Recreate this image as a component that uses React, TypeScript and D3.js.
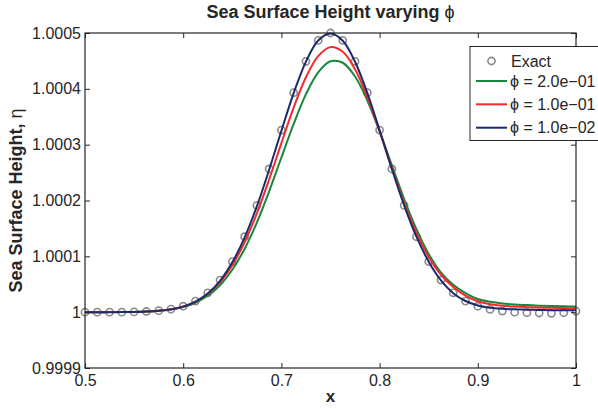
import React, { useEffect, useRef } from "react";
import * as d3 from "d3";

// x positions (every 0.0125 from 0.5 to 1)
const xs = d3.range(41).map((i) => +(0.5 + i * 0.0125).toFixed(4));

// Exact solution (circles)
const exact = [
  1.0000000, 1.0000000, 1.0000000, 1.0000000, 1.0000005, 1.0000012, 1.0000027, 1.0000055,
  1.0000107, 1.0000198, 1.0000346, 1.0000575, 1.0000906, 1.0001351, 1.0001912, 1.0002565,
  1.0003262, 1.0003932, 1.0004493, 1.0004868, 1.0005000, 1.0004868, 1.0004493, 1.0003932,
  1.0003262, 1.0002565, 1.0001912, 1.0001351, 1.0000906, 1.0000575, 1.0000346, 1.0000198,
  1.0000107, 1.0000050, 1.0000020, 1.0000000, 0.9999990, 0.9999985, 0.9999980, 0.9999990,
  1.0000020,
];

// phi = 2.0e-01
const phi2e1 = [
  1.0000000, 1.0000000, 1.0000001, 1.0000002, 1.0000005, 1.0000011, 1.0000024, 1.0000048,
  1.0000092, 1.0000169, 1.0000293, 1.0000483, 1.0000759, 1.0001132, 1.0001605, 1.0002163,
  1.0002770, 1.0003373, 1.0003905, 1.0004296, 1.0004493, 1.0004467, 1.0004221, 1.0003791,
  1.0003237, 1.0002628, 1.0002027, 1.0001487, 1.0001040, 1.0000710, 1.0000490, 1.0000340,
  1.0000235, 1.0000185, 1.0000155, 1.0000138, 1.0000127, 1.0000117, 1.0000110, 1.0000105,
  1.0000100,
];

// phi = 1.0e-01
const phi1e1 = [
  1.0000000, 1.0000000, 1.0000001, 1.0000002, 1.0000005, 1.0000012, 1.0000026, 1.0000052,
  1.0000101, 1.0000186, 1.0000324, 1.0000535, 1.0000840, 1.0001252, 1.0001770, 1.0002376,
  1.0003028, 1.0003663, 1.0004207, 1.0004587, 1.0004747, 1.0004664, 1.0004350, 1.0003851,
  1.0003237, 1.0002583, 1.0001956, 1.0001420, 1.0000990, 1.0000670, 1.0000450, 1.0000295,
  1.0000195, 1.0000142, 1.0000115, 1.0000100, 1.0000090, 1.0000082, 1.0000077, 1.0000073,
  1.0000070,
];

// phi = 1.0e-02
const phi1e2 = [
  1.0000000, 1.0000000, 1.0000000, 1.0000001, 1.0000004, 1.0000010, 1.0000024, 1.0000050,
  1.0000100, 1.0000190, 1.0000335, 1.0000562, 1.0000892, 1.0001336, 1.0001896, 1.0002550,
  1.0003250, 1.0003923, 1.0004487, 1.0004865, 1.0004990, 1.0004862, 1.0004485, 1.0003925,
  1.0003258, 1.0002563, 1.0001912, 1.0001352, 1.0000905, 1.0000570, 1.0000340, 1.0000200,
  1.0000120, 1.0000080, 1.0000060, 1.0000050, 1.0000045, 1.0000040, 1.0000035, 1.0000035,
  1.0000035,
];

const xTicks = [0.5, 0.6, 0.7, 0.8, 0.9, 1];
const xTickLabels = ["0.5", "0.6", "0.7", "0.8", "0.9", "1"];
const yTicks = [0.9999, 1, 1.0001, 1.0002, 1.0003, 1.0004, 1.0005];
const yTickLabels = ["0.9999", "1", "1.0001", "1.0002", "1.0003", "1.0004", "1.0005"];

const seriesNames = ["ϕ = 2.0e−01", "ϕ = 1.0e−01", "ϕ = 1.0e−02"];
const seriesColors = ["#16883c", "#f42a2a", "#1c2a6c"];

const App = () => {
  const svgRef = useRef(null);

  useEffect(() => {
    const svg = d3.select(svgRef.current);
    svg.selectAll("*").remove();

    const width = 598, height = 409;
    const left = 85, right = 576, top = 33, bottom = 368;
    const font = "'Liberation Sans', Arial, Helvetica, sans-serif";
    const ink = "#262626";

    const x = d3.scaleLinear().domain([0.5, 1]).range([left, right]);
    const y = d3.scaleLinear().domain([0.9999, 1.0005]).range([bottom, top]);

    svg.append("rect").attr("width", width).attr("height", height).attr("fill", "#fff");

    // exact circles
    svg.append("g")
      .selectAll("circle")
      .data(exact)
      .join("circle")
      .attr("cx", (d, i) => x(xs[i]))
      .attr("cy", (d) => y(d))
      .attr("r", 3.6)
      .attr("fill", "none")
      .attr("stroke", "#8a8a8a")
      .attr("stroke-width", 1.6);

    const line = d3.line()
      .x((d, i) => x(xs[i]))
      .y((d) => y(d))
      .curve(d3.curveCatmullRom);

    [phi2e1, phi1e1, phi1e2].forEach((s, i) => {
      svg.append("path")
        .datum(s)
        .attr("fill", "none")
        .attr("stroke", seriesColors[i])
        .attr("stroke-width", 2)
        .attr("d", line);
    });

    // axes (ticks inward, box all round)
    const styleAxis = (g) => {
      g.attr("font-family", font).attr("font-size", 16);
      g.select(".domain").remove();
      g.selectAll("line").attr("stroke", ink);
      g.selectAll("text").attr("fill", ink);
    };

    svg.append("g")
      .attr("transform", `translate(0,${bottom})`)
      .call(d3.axisBottom(x).tickValues(xTicks).tickFormat((d, i) => xTickLabels[i]).tickSize(-5).tickPadding(7))
      .call(styleAxis);
    svg.append("g")
      .attr("transform", `translate(0,${top})`)
      .call(d3.axisTop(x).tickValues(xTicks).tickFormat("").tickSize(-5))
      .call(styleAxis);
    svg.append("g")
      .attr("transform", `translate(${left},0)`)
      .call(d3.axisLeft(y).tickValues(yTicks).tickFormat((d, i) => yTickLabels[i]).tickSize(-5).tickPadding(4))
      .call(styleAxis);
    svg.append("g")
      .attr("transform", `translate(${right},0)`)
      .call(d3.axisRight(y).tickValues(yTicks).tickFormat("").tickSize(-5))
      .call(styleAxis);

    svg.append("rect")
      .attr("x", left).attr("y", top)
      .attr("width", right - left).attr("height", bottom - top)
      .attr("fill", "none").attr("stroke", ink).attr("stroke-width", 1.2);

    // title
    const title = svg.append("text")
      .attr("x", (left + right) / 2)
      .attr("y", 18)
      .attr("text-anchor", "middle")
      .attr("font-family", font)
      .attr("font-size", 18)
      .attr("font-weight", "bold")
      .attr("fill", ink);
    title.append("tspan").text("Sea Surface Height varying ");
    title.append("tspan").attr("font-weight", "normal").text("ϕ");

    // axis labels
    svg.append("text")
      .attr("x", (left + right) / 2)
      .attr("y", 402)
      .attr("text-anchor", "middle")
      .attr("font-family", font)
      .attr("font-size", 17)
      .attr("font-weight", "bold")
      .attr("fill", ink)
      .text("x");
    const ylab = svg.append("text")
      .attr("transform", `translate(22,${(top + bottom) / 2}) rotate(-90)`)
      .attr("text-anchor", "middle")
      .attr("font-family", font)
      .attr("font-size", 18)
      .attr("font-weight", "bold")
      .attr("fill", ink);
    ylab.append("tspan").text("Sea Surface Height, ");
    ylab.append("tspan").attr("font-weight", "normal").text("η");

    // legend
    const lg = svg.append("g").attr("font-family", font).attr("font-size", 16).attr("fill", ink);
    lg.append("rect")
      .attr("x", 470).attr("y", 46.5)
      .attr("width", 150).attr("height", 94)
      .attr("fill", "#fff").attr("stroke", ink).attr("stroke-width", 1);
    lg.append("circle")
      .attr("cx", 491.5).attr("cy", 61)
      .attr("r", 3.6).attr("fill", "none")
      .attr("stroke", "#8a8a8a").attr("stroke-width", 1.6);
    lg.append("text").attr("x", 511).attr("y", 61).attr("dy", "0.35em").text("Exact");
    const rowY = [81, 104.3, 127.7];
    seriesNames.forEach((name, i) => {
      lg.append("line")
        .attr("x1", 476).attr("x2", 507)
        .attr("y1", rowY[i]).attr("y2", rowY[i])
        .attr("stroke", seriesColors[i]).attr("stroke-width", 2);
      lg.append("text").attr("x", 510).attr("y", rowY[i]).attr("dy", "0.35em").text(name);
    });
  }, []);

  return (
    <svg
      ref={svgRef}
      width={598}
      height={409}
      style={{ position: "absolute", left: 0, top: 0, display: "block" }}
    ></svg>
  );
};

export default App;
